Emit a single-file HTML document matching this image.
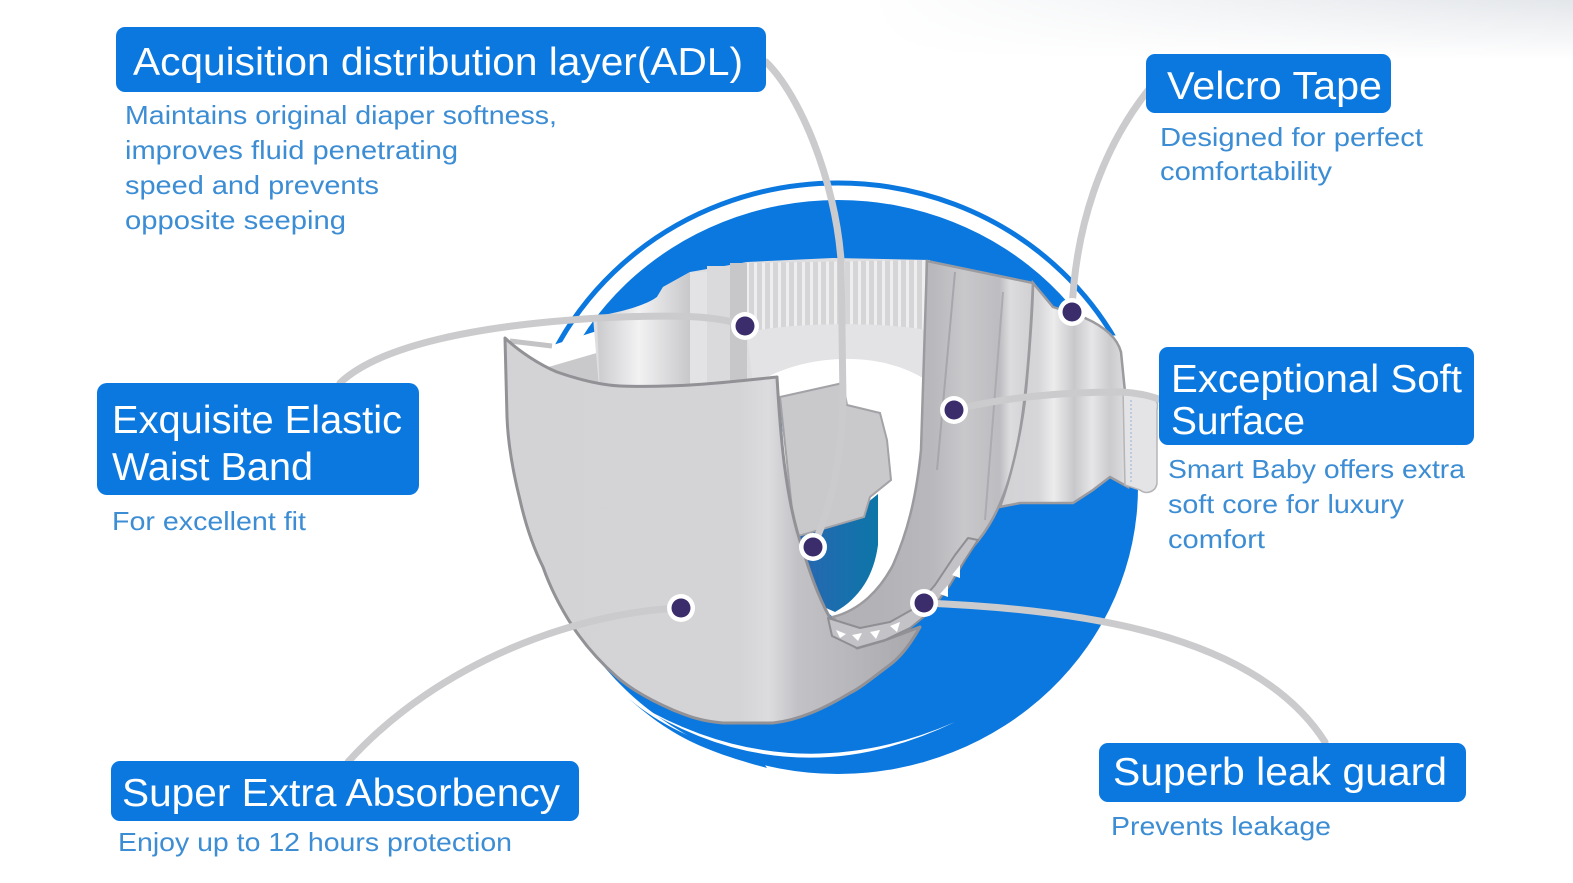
<!DOCTYPE html>
<html><head><meta charset="utf-8"><style>
html,body{margin:0;padding:0;background:#fff;}
svg{display:block;}
.h{font-family:"Liberation Sans",Arial,sans-serif;font-size:39px;fill:#fff;}
.d{font-family:"Liberation Sans",Arial,sans-serif;font-size:26px;fill:#3c8dd4;}
</style></head><body>
<svg width="1573" height="883" viewBox="0 0 1573 883" xmlns="http://www.w3.org/2000/svg">
<defs>
  <linearGradient id="tg" x1="0" y1="0" x2="0" y2="1">
    <stop offset="0" stop-color="#e3e6ea"/><stop offset="1" stop-color="#ffffff"/>
  </linearGradient>
  <linearGradient id="tmg" x1="0" y1="0" x2="1" y2="0">
    <stop offset="0" stop-color="#000"/><stop offset="0.55" stop-color="#000"/><stop offset="1" stop-color="#fff"/>
  </linearGradient>
  <mask id="tm"><rect x="0" y="0" width="1573" height="60" fill="url(#tmg)"/></mask>
  <clipPath id="topclip"><polygon points="300,0 1300,0 1300,330 555,352 300,352"/></clipPath>
  <linearGradient id="cyl" gradientUnits="userSpaceOnUse" x1="597" y1="0" x2="690" y2="0">
    <stop offset="0" stop-color="#cbcbce"/><stop offset="0.45" stop-color="#f2f2f3"/><stop offset="1" stop-color="#c8c8cb"/>
  </linearGradient>
  <pattern id="stripes" width="8" height="200" patternUnits="userSpaceOnUse">
    <rect width="8" height="200" fill="#d5d5d7"/><rect x="2" width="3" height="200" fill="#eeeeef"/>
  </pattern>
  <linearGradient id="blu" gradientUnits="userSpaceOnUse" x1="795" y1="0" x2="880" y2="0">
    <stop offset="0" stop-color="#2a66b2"/><stop offset="1" stop-color="#0c76a8"/>
  </linearGradient>
  <linearGradient id="jb" gradientUnits="userSpaceOnUse" x1="880" y1="0" x2="1033" y2="0">
    <stop offset="0" stop-color="#b3b3b7"/><stop offset="0.35" stop-color="#b9b9bd"/><stop offset="0.55" stop-color="#c8c8cb"/>
    <stop offset="0.78" stop-color="#bdbdc1"/><stop offset="0.85" stop-color="#dcdcde"/><stop offset="1" stop-color="#d0d0d3"/>
  </linearGradient>
  <linearGradient id="wg" gradientUnits="userSpaceOnUse" x1="1000" y1="0" x2="1128" y2="0">
    <stop offset="0" stop-color="#d2d2d5"/><stop offset="0.3" stop-color="#d6d6d9"/><stop offset="0.42" stop-color="#ececed"/>
    <stop offset="0.58" stop-color="#c8c8cb"/><stop offset="0.72" stop-color="#e6e6e8"/><stop offset="0.86" stop-color="#cbcbce"/><stop offset="1" stop-color="#e0e0e2"/>
  </linearGradient>
  <linearGradient id="fp" gradientUnits="userSpaceOnUse" x1="505" y1="0" x2="930" y2="0">
    <stop offset="0" stop-color="#d3d3d6"/><stop offset="0.55" stop-color="#d4d4d7"/><stop offset="0.62" stop-color="#dcdcdf"/>
    <stop offset="0.69" stop-color="#c2c2c6"/><stop offset="0.8" stop-color="#b9b9bd"/><stop offset="1" stop-color="#a6a6aa"/>
  </linearGradient>
</defs>

<rect width="1573" height="883" fill="#fff"/>
<rect x="0" y="0" width="1573" height="60" fill="url(#tg)" mask="url(#tm)"/>

<!-- blue disk and rings -->
<ellipse cx="838" cy="487" rx="300" ry="287" fill="#0b78e0"/>
<ellipse cx="838" cy="487" rx="317" ry="304" fill="none" stroke="#0b78e0" stroke-width="5" clip-path="url(#topclip)"/>
<path d="M628,698 C670,735 700,750 767,768 L760,758 C700,745 660,725 628,698 Z" fill="#0b78e0"/>
<path d="M630,700 Q787,803 955,722 Q787,795 630,700 Z" fill="#fff"/>

<!-- back pieces -->
<path d="M507,342 L550,346 L600,330 L600,395 L560,378 Z" fill="#fff"/>
<path d="M545,368 L600,352 L603,388 L560,380 Z" fill="#c9c9cc"/>
<line x1="510" y1="341" x2="552" y2="346" stroke="#c3c3c6" stroke-width="5"/>
<path d="M593,317 C620,312 645,306 657,297 L663,287 L690,272 L747,262 L833,258 L930,260 L930,400 L600,400 Z" fill="#dedee0"/>
<path d="M597,318 C620,312 645,306 657,297 L663,287 L690,272 L690,395 L600,395 Z" fill="url(#cyl)"/>
<rect x="690" y="272" width="17" height="123" fill="#e3e3e5"/>
<rect x="707" y="266" width="23" height="129" fill="#dadadc"/>
<rect x="730" y="263" width="17" height="132" fill="#c7c7ca"/>
<path d="M747,263 L927,260 L927,330 C880,322 800,322 747,332 Z" fill="url(#stripes)"/>
<path d="M747,332 C800,322 880,322 927,330 L927,380 C900,364 870,358 833,359 C800,361 775,372 753,385 Z" fill="#e3e3e5"/>

<!-- hole, blue core, core -->
<path d="M753,385 C780,368 810,360 840,359 C875,358 905,366 926,380 L921,450 C916,500 907,533 893,565 C880,590 860,610 833,617 L812,600 L790,540 L780,397 Z" fill="#fff"/>
<path d="M795,537 L863,518 L867,503 L878,494 L878,545 C874,575 860,598 835,612 L815,603 Z" fill="url(#blu)"/>
<path d="M780,397 L843,383 L847,405 L880,413 L887,440 L891,480 L870,497 L864,517 L795,537 Z" fill="#c9c9cc" stroke="#a3a3a7" stroke-width="2"/>

<!-- J band -->
<path d="M927,261 L1033,283 C1030,350 1025,420 1012,470 C1000,510 988,530 972,548 L945,588 L922,614 L885,634 L845,632 L833,617 C860,610 880,590 893,565 C907,533 916,500 921,450 Z" fill="url(#jb)" stroke="#9b9b9f" stroke-width="2.5"/>
<line x1="955" y1="272" x2="937" y2="470" stroke="#a7a7ab" stroke-width="2"/>
<line x1="1003" y1="292" x2="985" y2="520" stroke="#acacb0" stroke-width="2"/>

<!-- wing and tab -->
<path d="M1033,283 L1053,307 C1065,311 1073,313 1085,318 C1103,326 1117,337 1121,352 L1125,392 L1128,392 L1128,487 L1110,477 L1093,490 L1073,503 L1020,503 L1000,507 C1010,480 1020,440 1025,400 C1030,350 1033,300 1033,283 Z" fill="url(#wg)" stroke="#9b9b9f" stroke-width="2.5"/>
<path d="M1123,390 L1152,398 C1158,400 1158,405 1157,410 L1157,483 C1156,492 1146,495 1140,490 L1125,485 Z" fill="#e4e4e6" stroke="#b5b5b8" stroke-width="1.5"/>
<line x1="1131" y1="400" x2="1131" y2="482" stroke="#8fb3df" stroke-width="1" stroke-dasharray="2,2"/>

<!-- front panel -->
<path d="M505,338 C520,352 540,365 557,372 C580,380 600,385 620,386 C680,388 730,382 777,377 C780,430 785,500 803,550 C812,580 822,605 833,623 L857,648 L885,640 L920,627 C910,645 900,658 887,667 C870,680 860,688 850,693 C825,708 800,720 773,723 L723,723 C700,721 688,716 673,710 C650,700 632,690 617,677 C600,662 585,645 573,627 C560,607 550,587 543,567 C532,545 525,522 520,500 C513,472 508,445 507,417 Z" fill="url(#fp)" stroke="#929296" stroke-width="3" stroke-linejoin="round"/>

<!-- leak guard cuff -->
<path d="M828,618 L832,636 L857,648 L885,640 L910,628 L930,612 L950,585 L965,560 L978,540 L968,538 L955,555 L935,585 L915,608 L890,622 L860,628 Z" fill="#c3c3c7" stroke="#8f8f93" stroke-width="2" stroke-linejoin="round"/>
<g fill="#fff">
  <polygon points="836,630 846,634 840,638"/>
  <polygon points="852,635 862,633 858,641"/>
  <polygon points="870,632 880,630 876,639"/>
  <polygon points="890,626 900,622 897,632"/>
  <polygon points="940,594 948,585 948,597"/>
  <polygon points="952,575 960,565 960,578"/>
</g>

<!-- connectors -->
<g fill="none" stroke="#cbcbcd" stroke-width="7" stroke-linecap="round">
  <path d="M766,62 C800,95 835,180 841,260 L843,400 C842,460 830,510 813,547"/>
  <path d="M1072,312 C1075,230 1100,150 1150,88"/>
  <path d="M340,383 C380,345 480,325 600,318 C680,314 720,316 745,326"/>
  <path d="M954,410 C1000,398 1060,392 1120,392 C1140,393 1150,396 1162,400"/>
  <path d="M681,608 C580,612 440,660 348,762"/>
  <path d="M924,603 C1100,610 1260,640 1325,742"/>
</g>

<!-- dots -->
<g>
  <circle cx="745" cy="326" r="14" fill="#fff"/><circle cx="745" cy="326" r="9.5" fill="#3b2d6b"/>
  <circle cx="1072" cy="312" r="14" fill="#fff"/><circle cx="1072" cy="312" r="9.5" fill="#3b2d6b"/>
  <circle cx="954" cy="410" r="14" fill="#fff"/><circle cx="954" cy="410" r="9.5" fill="#3b2d6b"/>
  <circle cx="813" cy="547" r="14" fill="#fff"/><circle cx="813" cy="547" r="9.5" fill="#3b2d6b"/>
  <circle cx="681" cy="608" r="14" fill="#fff"/><circle cx="681" cy="608" r="9.5" fill="#3b2d6b"/>
  <circle cx="924" cy="603" r="14" fill="#fff"/><circle cx="924" cy="603" r="9.5" fill="#3b2d6b"/>
</g>

<!-- boxes -->
<g fill="#0b78e0">
  <rect x="116" y="27" width="650" height="65" rx="9"/>
  <rect x="1146" y="54" width="245" height="59" rx="9"/>
  <rect x="1159" y="347" width="315" height="98" rx="9"/>
  <rect x="97" y="383" width="322" height="112" rx="10"/>
  <rect x="111" y="761" width="468" height="60" rx="9"/>
  <rect x="1099" y="743" width="367" height="59" rx="9"/>
</g>

<!-- headings -->
<text class="h" x="133" y="75" textLength="610" lengthAdjust="spacingAndGlyphs">Acquisition distribution layer(ADL)</text>
<text class="h" x="1167" y="99" textLength="215" lengthAdjust="spacingAndGlyphs">Velcro Tape</text>
<text class="h" x="1171" y="392" textLength="291" lengthAdjust="spacingAndGlyphs">Exceptional Soft</text>
<text class="h" x="1171" y="434" textLength="134" lengthAdjust="spacingAndGlyphs">Surface</text>
<text class="h" x="112" y="433" textLength="290" lengthAdjust="spacingAndGlyphs">Exquisite Elastic</text>
<text class="h" x="112" y="480" textLength="201" lengthAdjust="spacingAndGlyphs">Waist Band</text>
<text class="h" x="122" y="806" textLength="438" lengthAdjust="spacingAndGlyphs">Super Extra Absorbency</text>
<text class="h" x="1113" y="785" textLength="334" lengthAdjust="spacingAndGlyphs">Superb leak guard</text>

<!-- descriptions -->
<text class="d" x="125" y="124" textLength="432" lengthAdjust="spacingAndGlyphs">Maintains original diaper softness,</text>
<text class="d" x="125" y="159" textLength="333" lengthAdjust="spacingAndGlyphs">improves fluid penetrating</text>
<text class="d" x="125" y="194" textLength="254" lengthAdjust="spacingAndGlyphs">speed and prevents</text>
<text class="d" x="125" y="229" textLength="221" lengthAdjust="spacingAndGlyphs">opposite seeping</text>

<text class="d" x="1160" y="146" textLength="263" lengthAdjust="spacingAndGlyphs">Designed for perfect</text>
<text class="d" x="1160" y="180" textLength="172" lengthAdjust="spacingAndGlyphs">comfortability</text>

<text class="d" x="1168" y="478" textLength="297" lengthAdjust="spacingAndGlyphs">Smart Baby offers extra</text>
<text class="d" x="1168" y="513" textLength="236" lengthAdjust="spacingAndGlyphs">soft core for luxury</text>
<text class="d" x="1168" y="548" textLength="97" lengthAdjust="spacingAndGlyphs">comfort</text>

<text class="d" x="112" y="530" textLength="194" lengthAdjust="spacingAndGlyphs">For excellent fit</text>
<text class="d" x="118" y="851" textLength="394" lengthAdjust="spacingAndGlyphs">Enjoy up to 12 hours protection</text>
<text class="d" x="1111" y="835" textLength="220" lengthAdjust="spacingAndGlyphs">Prevents leakage</text>
</svg>
</body></html>
